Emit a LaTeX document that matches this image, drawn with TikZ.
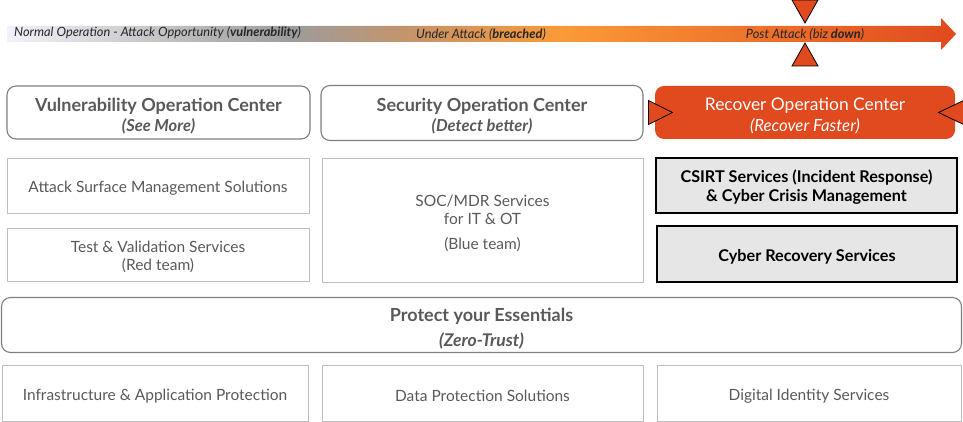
\documentclass[tikz,border=0pt]{standalone}
\usepackage{fontspec}
\setmainfont{Lato}
\usetikzlibrary{positioning,calc}
\definecolor{mist}{HTML}{F2F2FA}
\definecolor{ash}{HTML}{9C9C9C}
\definecolor{tan}{HTML}{C99466}
\definecolor{amber}{HTML}{FA9A38}
\definecolor{ember}{HTML}{E04A1E}
\definecolor{slate}{HTML}{595959}
\definecolor{frame}{HTML}{7F7F7F}
\definecolor{hairline}{HTML}{BFBFBF}
\definecolor{fog}{HTML}{E7E6E6}
\pgfdeclarehorizontalshading{timeline}{100bp}{color(0bp)=(mist); color(25bp)=(mist);
  color(39.9bp)=(ash); color(46.8bp)=(tan); color(54.2bp)=(amber);
  color(75bp)=(ember); color(100bp)=(ember)}
\newcommand\headroom[1]{\rule{0pt}{#1}}

\begin{document}
\begin{tikzpicture}[x=1pt,y=-1pt,
    sink/.style={execute at begin node={\rule{0pt}{#1}}},
    center/.style={draw=frame,line width=1.1pt,rounded corners=9pt,align=center,
                   inner sep=0pt,text=slate,font=\fontsize{18}{20}\selectfont\bfseries},
    offer/.style={draw=hairline,line width=0.9pt,align=center,inner sep=0pt,
                  text=slate,font=\fontsize{15.5}{18.5}\selectfont,sink=17.3pt},
    urgent/.style={draw=black,fill=fog,line width=1.3pt,align=center,inner sep=0pt,
                   font=\fontsize{16.2}{18.5}\selectfont\bfseries,sink=16.9pt},
    phase/.style={font=\fontsize{12.8}{14}\selectfont\itshape,text=black!85,inner sep=0pt},
    marker/.style={fill=ember,draw=black,line width=0.8pt,line join=miter}]
  \useasboundingbox (0,0) rectangle (963,422);
  % timeline
  \shade[shading=timeline] (7,26) -- (941,26) -- (941,18) -- (956,34)
    -- (941,50) -- (941,42) -- (7,42) -- cycle;
  \node[phase,anchor=west] (normal) at (14,33) {Normal Operation - Attack Opportunity (\textbf{vulnerability})};
  \node[phase] (under) at (481,34) {Under Attack (\textbf{breached})};
  \node[phase] (post) at (805,34) {Post Attack (biz \textbf{down})};
  % operation centers
  \node[center,minimum width=303,minimum height=53] (voc) at (158.5,112.5)
    {\headroom{21pt}Vulnerability Operation Center\\{\fontsize{16.5}{19}\selectfont\itshape(See More)}};
  \node[center,minimum width=322,minimum height=55] (soc) at (482,113)
    {\headroom{19.5pt}Security Operation Center\\{\fontsize{16.5}{19}\selectfont\itshape(Detect better)}};
  \node[center,draw=none,fill=ember,text=white,font=\fontsize{17.4}{20}\selectfont,
        minimum width=300,minimum height=53] (roc) at (805,112.5)
    {\headroom{19.7pt}Recover Operation Center\\[1pt]{\fontsize{16.8}{19}\selectfont\itshape(Recover Faster)}};
  \draw[marker] ($(roc.west)+(-6,-12)$) -- ++(24,12) -- ++(-24,12) -- cycle;
  \draw[marker] ($(roc.east)+(8,-12)$) -- ++(-25,12) -- ++(25,12) -- cycle;
  \draw[marker] ($(post)+(-13,-34)$) -- ++(26,0) -- ++(-13,23) -- cycle;
  \draw[marker] ($(post)+(-13,32)$) -- ++(26,0) -- ++(-13,-23) -- cycle;
  % services
  \node[offer,minimum width=302,minimum height=55] (asm) at (158,185.5)
    {Attack Surface Management Solutions};
  \node[offer,minimum width=302,minimum height=53] (tv) at (158,254.5)
    {\headroom{16.3pt}Test \& Validation Services\\(Red team)};
  \node[offer,minimum width=321,minimum height=124] (mdr) at (482.5,220)
    {\headroom{17.3pt}SOC/MDR Services\\for IT \& OT\\[6pt](Blue team)};
  \node[urgent,minimum width=301,minimum height=55] (csirt) at (806.5,185.5)
    {\headroom{15.8pt}CSIRT Services (Incident Response)\\\& Cyber Crisis Management};
  \node[urgent,minimum width=300,minimum height=56] (cyrec) at (807,254)
    {Cyber Recovery Services};
  % essentials
  \node[center,minimum width=960,minimum height=55] (pye) at (481.5,325)
    {\headroom{20.1pt}Protect your Essentials\\[5pt]{\fontsize{17.5}{19}\selectfont\itshape(Zero-Trust)}};
  \node[offer,minimum width=306,minimum height=56] (iap) at (155,393)
    {Infrastructure \& Application Protection};
  \node[offer,minimum width=321,minimum height=56] (dps) at (482.5,393)
    {Data Protection Solutions};
  \node[offer,minimum width=304,minimum height=56] (dis) at (809,393)
    {Digital Identity Services};
\end{tikzpicture}
\end{document}
